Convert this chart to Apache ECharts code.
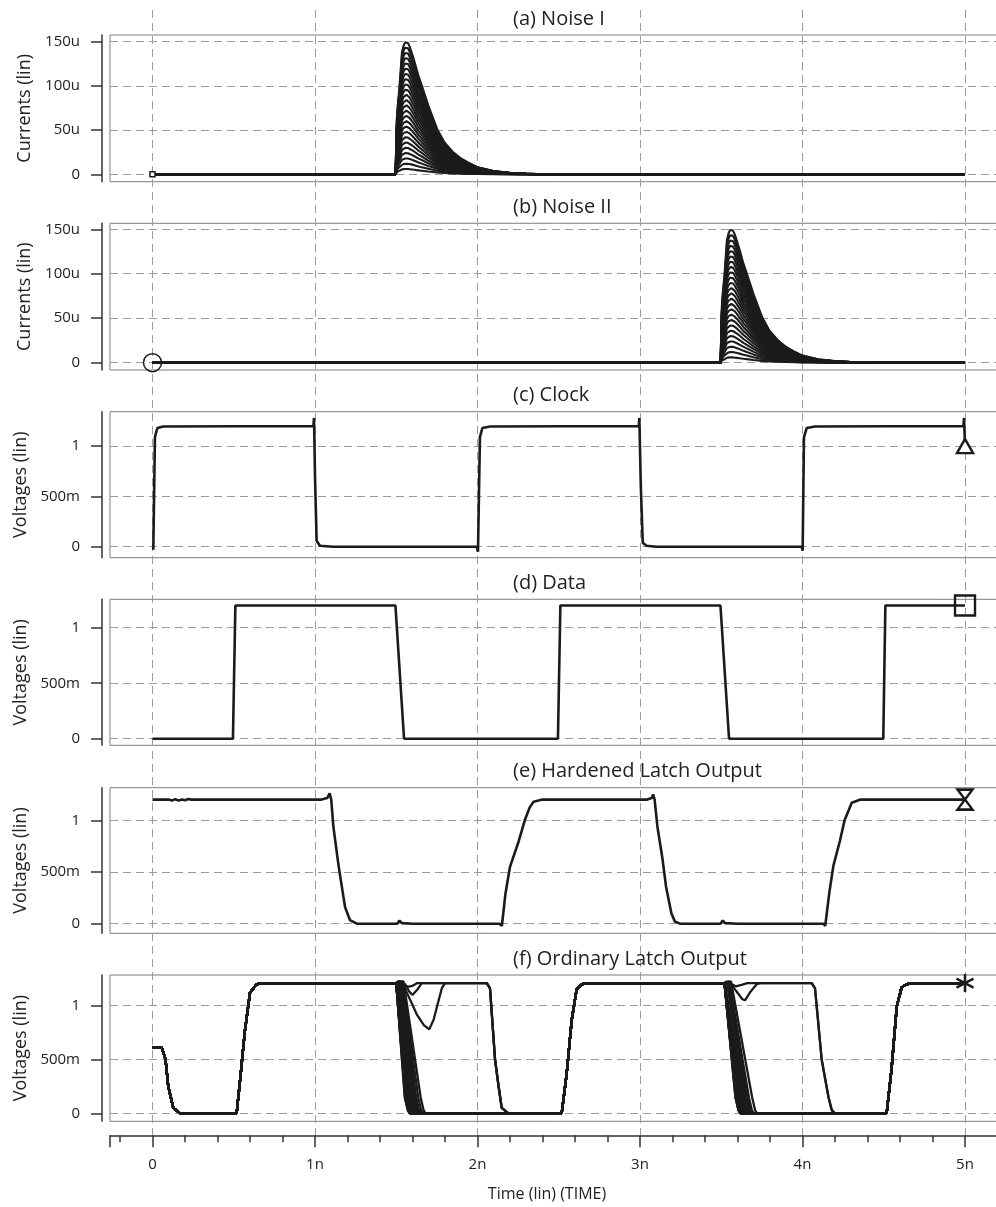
<!DOCTYPE html>
<html>
<head>
<meta charset="utf-8">
<title>Latch transient response</title>
<script src="https://cdn.jsdelivr.net/npm/echarts@6/dist/echarts.min.js"></script>
<style>
  html, body { margin: 0; padding: 0; background: #fff; }
  #chart { width: 996px; height: 1207px; }
</style>
</head>
<body>
<div id="chart"></div>
<script>
// time in ns, currents in uA, voltages in V
const timeTicks = [0, 1, 2, 3, 4, 5];
const timeMinorTicks = [-0.2, 0.2, 0.4, 0.6, 0.8, 1.2, 1.4, 1.6, 1.8, 2.2, 2.4, 2.6, 2.8,
  3.2, 3.4, 3.6, 3.8, 4.2, 4.4, 4.6, 4.8, 5.2];
const currentTicks = [0, 50, 100, 150];
const voltageTicks = [0, 0.5, 1];

const panelTitles = ['(a) Noise I', '(b) Noise II', '(c) Clock', '(d) Data',
  '(e) Hardened Latch Output', '(f) Ordinary Latch Output'];

// injected current pulses: one shape, swept peak amplitude
const noiseAmps = [6, 12, 18, 24, 30, 36, 42, 48, 54, 60, 66, 72, 78, 84, 90, 96, 102,
  108, 114, 120, 126, 132, 138, 144, 150];
const noiseStarts = [1.497, 3.497];
const pulseT = [0, 0.003, 0.008, 0.015, 0.022, 0.03, 0.038, 0.048, 0.058, 0.066, 0.075,
  0.085, 0.1, 0.115, 0.14, 0.16, 0.2, 0.255, 0.3, 0.35, 0.4, 0.45, 0.5, 0.6, 0.7, 0.8, 0.9];
const pulseV = [0, 0.3, 0.45, 0.56, 0.64, 0.78, 0.92, 0.97, 0.995, 1.0, 0.99,
  0.965, 0.91, 0.85, 0.74, 0.67, 0.52, 0.34, 0.24, 0.17, 0.12, 0.085, 0.055, 0.025, 0.012, 0.005, 0];

const clockTrace = [[0.005, -0.03], [0.015, 1.09], [0.03, 1.18], [0.066, 1.195], [0.99, 1.2],
  [0.994, 1.28], [1.0, 0.7], [1.01, 0.06], [1.03, 0.01], [1.11, 0], [1.995, 0], [2.003, -0.05],
  [2.015, 1.09], [2.03, 1.18], [2.077, 1.195], [2.992, 1.2], [2.996, 1.28], [3.005, 0.6],
  [3.017, 0.04], [3.04, 0.01], [3.1, 0], [3.995, 0], [4.001, -0.04], [4.009, 1.09],
  [4.026, 1.18], [4.077, 1.195], [4.99, 1.2], [4.994, 1.28], [5.0, 1.0]];

const dataTrace = [[0, 0], [0.495, 0], [0.51, 1.2], [1.495, 1.2], [1.548, 0], [2.495, 0],
  [2.51, 1.2], [3.495, 1.2], [3.548, 0], [4.497, 0], [4.51, 1.2], [5, 1.2]];

const hardenedTrace = [[0, 1.2], [0.1, 1.2], [0.12, 1.19], [0.14, 1.205], [0.16, 1.19],
  [0.18, 1.2], [0.2, 1.193], [0.22, 1.205], [0.24, 1.2], [1.04, 1.2], [1.075, 1.215],
  [1.09, 1.26], [1.1, 1.2], [1.113, 0.94], [1.14, 0.62], [1.154, 0.47], [1.185, 0.16],
  [1.215, 0.035], [1.257, 0], [1.505, 0], [1.52, 0.03], [1.535, 0.005], [1.6, 0],
  [2.135, 0], [2.15, -0.02], [2.172, 0.29], [2.2, 0.55], [2.215, 0.62], [2.25, 0.78],
  [2.291, 1.0], [2.32, 1.12], [2.345, 1.18], [2.4, 1.2], [3.045, 1.2], [3.072, 1.215],
  [3.081, 1.25], [3.09, 1.2], [3.107, 0.94], [3.139, 0.62], [3.16, 0.36], [3.193, 0.1],
  [3.215, 0.02], [3.248, 0], [3.495, 0], [3.509, 0.03], [3.525, 0.005], [3.6, 0],
  [4.128, 0], [4.14, -0.02], [4.165, 0.3], [4.19, 0.56], [4.2, 0.62], [4.23, 0.8],
  [4.259, 1.0], [4.303, 1.17], [4.357, 1.2], [5, 1.2]];

// ordinary latch: shared pieces of the 25 swept traces
const fPrefix = [[0, 0.61], [0.057, 0.61], [0.08, 0.5], [0.097, 0.25], [0.128, 0.05],
  [0.17, 0], [0.518, 0], [0.543, 0.37], [0.569, 0.77], [0.6, 1.12], [0.641, 1.2],
  [0.7, 1.21], [1.5, 1.21]];
const fMid = [[2.2, 0], [2.518, 0], [2.549, 0.37], [2.58, 0.87], [2.61, 1.15],
  [2.641, 1.2], [2.7, 1.21], [3.52, 1.21]];
const fEnd = [[4.2, 0], [4.518, 0], [4.549, 0.43], [4.58, 0.99], [4.61, 1.17],
  [4.641, 1.2], [4.7, 1.21], [5, 1.21]];
// traces that survive the first pulse (amps 6, 12, 18)
const fHold1Tiny = [[1.53, 1.21], [1.57, 1.175], [1.6, 1.185], [1.63, 1.21], [2.057, 1.21]];
const fHold1Dip = [[1.554, 1.2], [1.58, 1.13], [1.6, 1.1], [1.63, 1.15], [1.657, 1.21], [2.057, 1.21]];
const fHold1Deep = [[1.553, 1.16], [1.59, 1.04], [1.626, 0.92], [1.67, 0.82], [1.703, 0.78],
  [1.73, 0.87], [1.749, 0.98], [1.78, 1.16], [1.8, 1.21], [2.057, 1.21]];
const fFall1 = [[2.057, 1.21], [2.065, 1.22], [2.077, 1.16], [2.108, 0.5], [2.128, 0.27],
  [2.149, 0.05], [2.19, 0]];
// traces that survive the second pulse (amps 6, 12)
const fHold2Tiny = [[3.55, 1.21], [3.59, 1.18], [3.63, 1.195], [3.66, 1.21], [4.057, 1.21]];
const fHold2Dip = [[3.56, 1.2], [3.6, 1.12], [3.63, 1.06], [3.646, 1.05], [3.68, 1.13],
  [3.718, 1.2], [3.74, 1.21], [4.057, 1.21]];
const fFall2 = [[4.057, 1.21], [4.065, 1.22], [4.077, 1.16], [4.118, 0.5], [4.16, 0.15],
  [4.18, 0.03], [4.2, 0]];
// flipped traces: fall start / fall end, slowest to fastest
const flipStart1 = [1.545, 1.538, 1.532, 1.528, 1.525, 1.522, 1.52, 1.518, 1.516, 1.515, 1.514,
  1.513, 1.512, 1.511, 1.51, 1.509, 1.508, 1.507, 1.507, 1.506, 1.506, 1.505];
const flipEnd1 = [1.68, 1.665, 1.652, 1.643, 1.636, 1.63, 1.625, 1.62, 1.616, 1.612, 1.608,
  1.605, 1.602, 1.599, 1.596, 1.594, 1.592, 1.59, 1.588, 1.586, 1.584, 1.582];
const flipStart2 = [3.56, 3.55, 3.543, 3.538, 3.534, 3.531, 3.528, 3.526, 3.524, 3.523, 3.522,
  3.521, 3.52, 3.52, 3.519, 3.519, 3.518, 3.518, 3.517, 3.517, 3.516, 3.516, 3.515];
const flipEnd2 = [3.72, 3.7, 3.69, 3.68, 3.672, 3.665, 3.66, 3.655, 3.65, 3.646, 3.642,
  3.639, 3.636, 3.633, 3.63, 3.628, 3.626, 3.624, 3.622, 3.62, 3.619, 3.618, 3.617];

const INK = '#1b1b1b';
const GRID_GRAY = '#9c9c9c';
const FONT = 'Open Sans';
const X_MIN = -0.2615, X_MAX = 5.2215;

const panels = [
  { top: 35, height: 146.7, min: -8.4, max: 157.6, ticks: currentTicks, name: 'Currents (lin)' },
  { top: 223.3, height: 146.7, min: -8.2, max: 156.7, ticks: currentTicks, name: 'Currents (lin)' },
  { top: 411.7, height: 146, min: -0.109, max: 1.342, ticks: voltageTicks, name: 'Voltages (lin)' },
  { top: 599.3, height: 146, min: -0.059, max: 1.256, ticks: voltageTicks, name: 'Voltages (lin)' },
  { top: 787.7, height: 145.6, min: -0.093, max: 1.315, ticks: voltageTicks, name: 'Voltages (lin)' },
  { top: 975, height: 146.3, min: -0.074, max: 1.285, ticks: voltageTicks, name: 'Voltages (lin)' },
];

const fmtCurrent = v => (v === 0 ? '0' : v + 'u');
const fmtVoltage = v => (v === 0 ? '0' : v < 1 ? Math.round(v * 1000) + 'm' : String(v));
const fmtTime = v => (v === 0 ? '0' : v + 'n');

function noiseFamily(start) {
  return noiseAmps.map(a => {
    const pts = [[0, 0]];
    pulseT.forEach((t, i) => pts.push([start + t, a * pulseV[i]]));
    pts.push([5, 0]);
    return pts;
  });
}

function flipSeg(s, e) {
  return [[s, 1.225], [e - 0.03, 0.15], [e - 0.012, 0.03], [e, 0]];
}

function ordinaryTraces() {
  const hold1 = [fHold1Tiny, fHold1Dip, fHold1Deep];
  const hold2 = [fHold2Tiny, fHold2Dip];
  return noiseAmps.map((a, k) => {
    const seg1 = k < hold1.length ? hold1[k].concat(fFall1)
      : flipSeg(flipStart1[k - hold1.length], flipEnd1[k - hold1.length]);
    const seg2 = k < hold2.length ? hold2[k].concat(fFall2)
      : flipSeg(flipStart2[k - hold2.length], flipEnd2[k - hold2.length]);
    return fPrefix.concat(seg1, fMid, seg2, fEnd);
  });
}

function line(idx, data, width) {
  return {
    type: 'line', xAxisIndex: idx, yAxisIndex: idx, data: data,
    showSymbol: false, symbol: 'none', silent: true, z: 2,
    lineStyle: { color: INK, width: width }, itemStyle: { color: INK },
  };
}

function marker(idx, point, symbol, size, fill, border) {
  return {
    type: 'scatter', xAxisIndex: idx, yAxisIndex: idx, data: [point],
    symbol: symbol, symbolSize: size, silent: true, z: 5,
    itemStyle: { color: fill, borderColor: INK, borderWidth: border, opacity: 1 },
  };
}

const series = [];
const noise1 = noiseFamily(noiseStarts[0]);
const noise2 = noiseFamily(noiseStarts[1]);
const ordinary = ordinaryTraces();
noise1.forEach(d => series.push(line(0, d, 2.1)));
noise2.forEach(d => series.push(line(1, d, 2.1)));
series.push(line(2, clockTrace, 2.6));
series.push(line(3, dataTrace, 2.6));
series.push(line(4, hardenedTrace, 2.6));
ordinary.forEach(d => series.push(line(5, d, 2.3)));

series.push(marker(0, noise1[0][0], 'rect', 5, '#fff', 1.5));
series.push(marker(1, noise2[0][0], 'circle', 18, 'rgba(0,0,0,0)', 1.5));
series.push(marker(2, clockTrace[clockTrace.length - 1], 'triangle', [16, 14], '#fff', 2.4));
series.push(marker(3, dataTrace[dataTrace.length - 1], 'rect', 20, 'rgba(0,0,0,0)', 2.4));
series.push(marker(4, hardenedTrace[hardenedTrace.length - 1],
  'path://M0,0 L10,0 L5,7 L10,14 L0,14 L5,7 Z', [15, 20], '#fff', 2.4));
series.push(marker(5, ordinary[0][ordinary[0].length - 1],
  'path://M5,0 L5,10 M0.67,2.5 L9.33,7.5 M0.67,7.5 L9.33,2.5', [17, 18], 'rgba(0,0,0,0)', 2.6));

const grids = panels.map(p => ({
  left: 110, right: -5, top: p.top, height: p.height, show: true,
  borderColor: '#7d7d7d', borderWidth: 1, backgroundColor: 'transparent',
  outerBoundsMode: 'none',
}));
// full-height grid carrying the vertical dashed time lines
grids.push({ left: 110, right: -5, top: 10, height: 1125, show: false, outerBoundsMode: 'none' });

const xAxes = panels.map((p, i) => ({
  type: 'value', gridIndex: i, min: X_MIN, max: X_MAX, show: false,
}));
xAxes.push({
  type: 'value', gridIndex: 6, min: X_MIN, max: X_MAX,
  axisLine: { show: false, onZero: false }, axisLabel: { show: false },
  axisTick: { show: false, customValues: timeTicks },
  splitLine: { show: true, lineStyle: { color: GRID_GRAY, width: 1, type: [8, 5] } },
});
xAxes.push({
  type: 'value', gridIndex: 5, position: 'bottom', offset: 14, min: X_MIN, max: X_MAX,
  axisLine: { show: true, onZero: false, lineStyle: { color: '#333', width: 1.5 } },
  axisTick: { show: true, length: 12, customValues: [X_MIN].concat(timeTicks),
    lineStyle: { color: '#333', width: 1.5 } },
  axisLabel: { show: true, customValues: timeTicks, formatter: fmtTime, margin: 22,
    fontSize: 15, color: '#222', fontFamily: FONT },
  splitLine: { show: false },
});
xAxes.push({
  type: 'value', gridIndex: 5, position: 'bottom', offset: 14, min: X_MIN, max: X_MAX,
  axisLine: { show: false, onZero: false },
  axisTick: { show: true, length: 7, customValues: timeMinorTicks,
    lineStyle: { color: '#333', width: 1.5 } },
  axisLabel: { show: false }, splitLine: { show: false },
});

const yAxes = panels.map((p, i) => ({
  type: 'value', gridIndex: i, min: p.min, max: p.max, position: 'left', offset: 8,
  name: p.name, nameLocation: 'middle', nameGap: 68,
  nameTextStyle: { fontSize: 18, color: '#222', fontFamily: FONT },
  axisLine: { show: true, onZero: false, lineStyle: { color: '#333', width: 1.5 } },
  axisTick: { show: true, length: 11, customValues: p.ticks, lineStyle: { color: '#333', width: 1.5 } },
  axisLabel: { show: true, customValues: p.ticks, margin: 22, fontSize: 15, color: '#222',
    fontFamily: FONT, formatter: i < 2 ? fmtCurrent : fmtVoltage },
  splitLine: { show: true, lineStyle: { color: GRID_GRAY, width: 1, type: [8, 5] } },
}));
yAxes.push({ type: 'value', gridIndex: 6, min: 0, max: 1, show: false });

const titles = panels.map((p, i) => ({
  text: panelTitles[i], left: 513, top: p.top - 26, padding: 0,
  textStyle: { fontSize: 20, fontWeight: 'normal', color: '#222', fontFamily: FONT },
}));
titles.push({
  text: 'Time (lin) (TIME)', left: 547, textAlign: 'center', top: 1186, padding: 0,
  textStyle: { fontSize: 16, fontWeight: 'normal', color: '#222', fontFamily: FONT },
});

const chart = echarts.init(document.getElementById('chart'), null, { renderer: 'canvas' });
chart.setOption({
  animation: false,
  backgroundColor: '#fff',
  textStyle: { fontFamily: FONT },
  title: titles,
  grid: grids,
  xAxis: xAxes,
  yAxis: yAxes,
  series: series,
});
</script>
</body>
</html>
